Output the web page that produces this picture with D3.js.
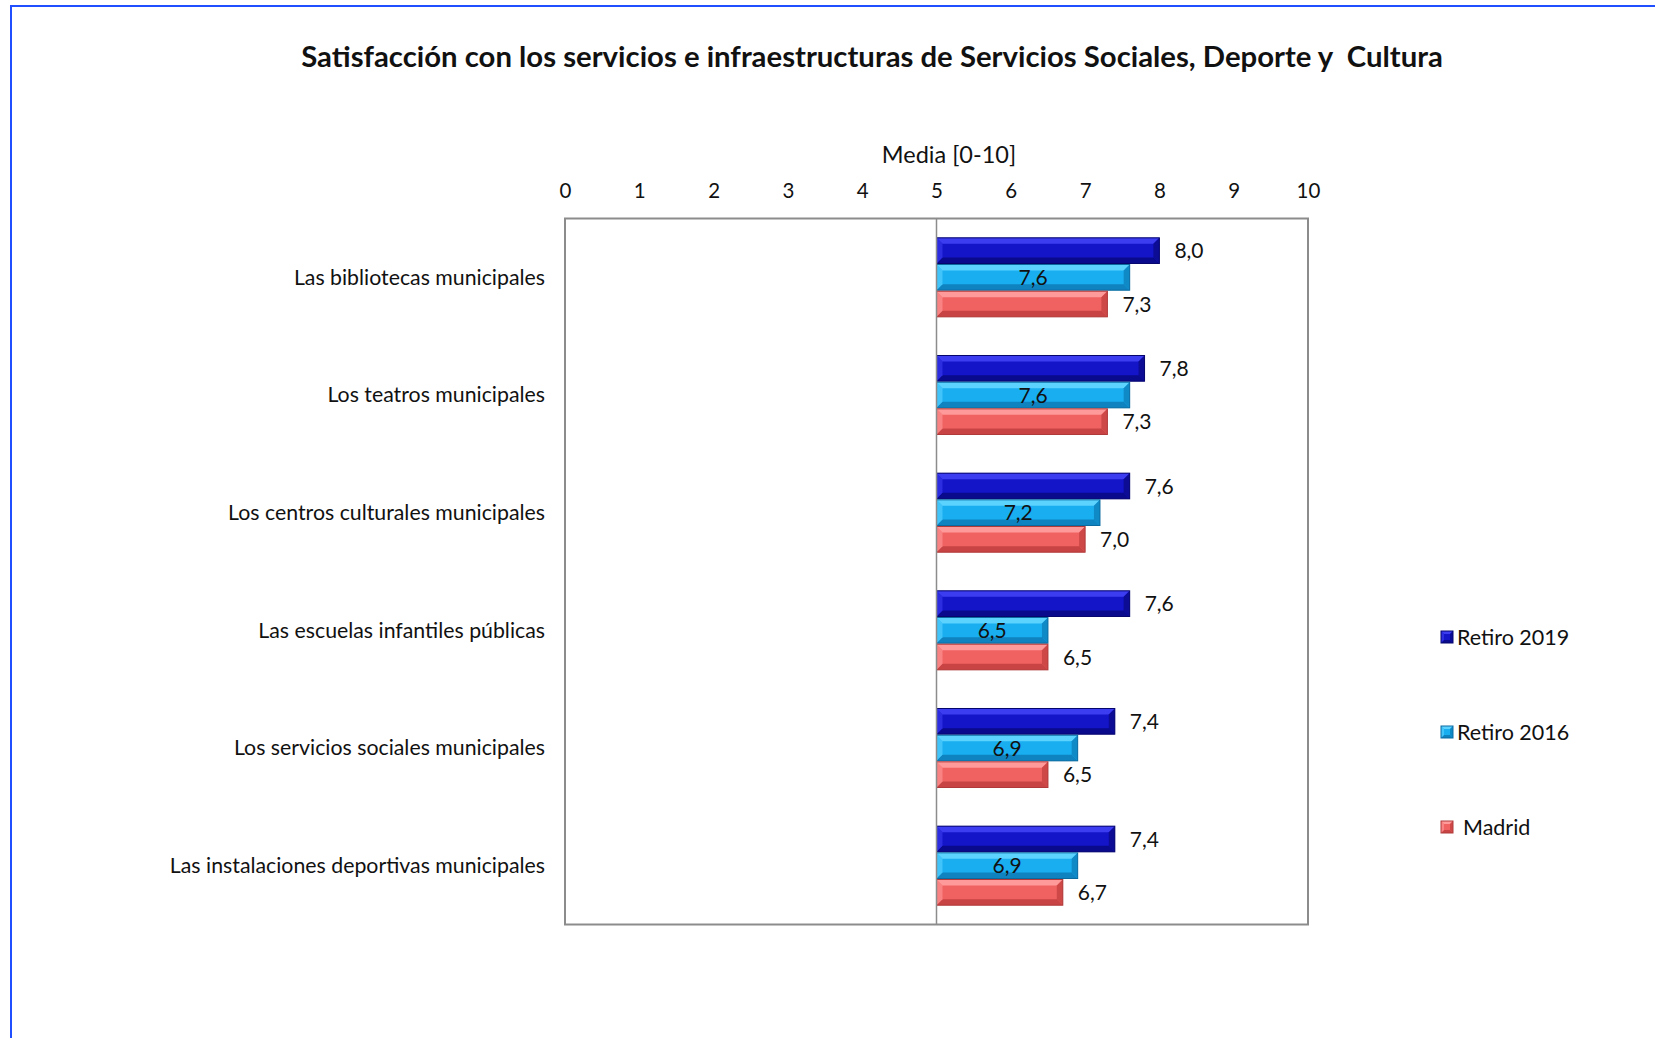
<!DOCTYPE html>
<html><head><meta charset="utf-8">
<script src="https://cdn.jsdelivr.net/npm/d3@7"></script>
<style>
html,body{margin:0;padding:0;background:#fff;}
svg{display:block;font-family:Lato,"Open Sans",sans-serif;}
</style></head>
<body>
<svg id="chart" width="1655" height="1038"></svg>
<script>
const categories = ["Las bibliotecas municipales","Los teatros municipales","Los centros culturales municipales","Las escuelas infantiles públicas","Los servicios sociales municipales","Las instalaciones deportivas municipales"];
const seriesNames = ["Retiro 2019","Retiro 2016","Madrid"];
const retiro2019 = [8.0,7.8,7.6,7.6,7.4,7.4];
const retiro2016 = [7.6,7.6,7.2,6.5,6.9,6.9];
const madrid = [7.3,7.3,7.0,6.5,6.5,6.7];
const tickValues = [0,1,2,3,4,5,6,7,8,9,10];
const title = "Satisfacción con los servicios e infraestructuras de Servicios Sociales, Deporte y  Cultura";
const axisTitle = "Media [0-10]";

(function(){
const seriesData = [retiro2019, retiro2016, madrid];
const colors = [
  {base:"#1414c8", light:"#3c3cf0", dark:"#0a0a8c", edge:"#06066e"},
  {base:"#19aef0", light:"#5cd2ff", dark:"#0f82c0", edge:"#0b6aa0"},
  {base:"#f06262", light:"#ff9a9a", dark:"#c84444", edge:"#b03a3a"}
];

const svg = d3.select("#chart");
const fmt = v => v.toFixed(1).replace(".", ",");

svg.append("rect").attr("x",11).attr("y",6).attr("width",1700).attr("height",1100)
  .attr("fill","none").attr("stroke","#1f4fff").attr("stroke-width",2);

svg.append("text").attr("x",872).attr("y",67).attr("text-anchor","middle")
  .style("white-space","pre")
  .attr("font-size",29.3).attr("font-weight","bold").attr("fill","#111").text(title);

const pl = 565, pr = 1308, pt = 218.5, pb = 924.5;
const x = d3.scaleLinear().domain([0,10]).range([pl,pr]);
const y = d3.scaleBand().domain(categories).range([pt,pb]).paddingInner(0.32).paddingOuter(0.16);
const ySub = d3.scaleBand().domain(seriesNames).range([0,y.bandwidth()]);

svg.append("text").attr("x",949).attr("y",163).attr("text-anchor","middle")
  .attr("font-size",23.5).attr("fill","#111").text(axisTitle);

const axis = d3.axisTop(x).tickValues(tickValues).tickSize(0).tickPadding(0).tickFormat(d=>d);
const ag = svg.append("g").attr("transform",`translate(0,${pt-21})`).call(axis);
ag.select(".domain").remove();
ag.selectAll("text").attr("font-size",20.5).attr("fill","#111").attr("font-family","Lato,sans-serif");

svg.append("rect").attr("x",pl).attr("y",pt).attr("width",pr-pl).attr("height",pb-pt)
  .attr("fill","none").attr("stroke","#8c8c8c").attr("stroke-width",2);

svg.append("g").selectAll("text").data(categories).join("text")
  .attr("x",545).attr("y",d=>y(d)+y.bandwidth()/2).attr("dy","0.35em")
  .attr("text-anchor","end").attr("font-size",21.3).attr("fill","#111").text(d=>d);

function bevelBar(g, x0, y0, w, h, c, b){
  g.append("rect").attr("x",x0).attr("y",y0).attr("width",w).attr("height",h).attr("fill",c.base);
  g.append("polygon").attr("points",`${x0},${y0} ${x0+w},${y0} ${x0+w-b},${y0+b} ${x0+b},${y0+b}`).attr("fill",c.light);
  g.append("polygon").attr("points",`${x0},${y0+h} ${x0+w},${y0+h} ${x0+w-b},${y0+h-b} ${x0+b},${y0+h-b}`).attr("fill",c.dark);
  g.append("polygon").attr("points",`${x0},${y0} ${x0+b},${y0+b} ${x0+b},${y0+h-b} ${x0},${y0+h}`).attr("fill",c.light).attr("opacity",0.6);
  g.append("polygon").attr("points",`${x0+w},${y0} ${x0+w-b},${y0+b} ${x0+w-b},${y0+h-b} ${x0+w},${y0+h}`).attr("fill",c.dark).attr("opacity",0.85);
  g.append("rect").attr("x",x0).attr("y",y0).attr("width",w).attr("height",h).attr("fill","none").attr("stroke",c.edge).attr("stroke-width",1);
}

const barsG = svg.append("g");
categories.forEach((cat,i)=>{
  seriesNames.forEach((s,j)=>{
    const v = seriesData[j][i];
    const x0 = x(5), x1 = x(v);
    const y0 = y(cat)+ySub(s)+0.5, h = ySub.bandwidth()-1;
    bevelBar(barsG.append("g"), x0, y0, x1-x0, h, colors[j], 6);
    const t = barsG.append("text").attr("y",y0+h/2).attr("dy","0.36em").attr("font-size",21).attr("fill","#111").text(fmt(v));
    if(j===1) t.attr("x",(x0+x1)/2).attr("text-anchor","middle");
    else t.attr("x",x1+15).attr("text-anchor","start");
  });
});

svg.append("line").attr("x1",x(5)).attr("x2",x(5)).attr("y1",pt).attr("y2",pb)
  .attr("stroke","#8c8c8c").attr("stroke-width",1.5);

const legY = [637,732,827];
const lg = svg.append("g");
seriesNames.forEach((s,j)=>{
  const g = lg.append("g");
  bevelBar(g, 1441, legY[j]-6, 12, 12, colors[j], 3);
  g.append("text").attr("x", j===2 ? 1463 : 1457).attr("y",legY[j]).attr("dy","0.36em")
    .attr("font-size",21.5).attr("fill","#111").text(s);
});
})();
</script>
</body></html>
